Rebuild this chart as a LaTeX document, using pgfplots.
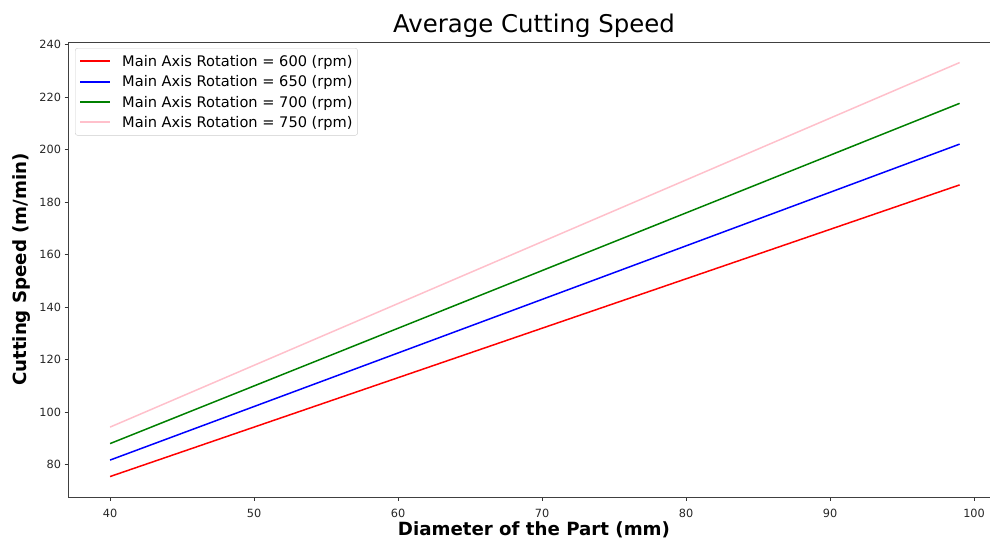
\documentclass[border=0pt]{standalone}
\usepackage{fontspec}
\setmainfont{DejaVu Sans}
\usepackage{pgfplots}
\pgfplotsset{compat=1.18}
\definecolor{mpink}{RGB}{255,192,203}
\definecolor{mgreen}{RGB}{0,128,0}
\definecolor{mblue}{RGB}{0,0,255}
\definecolor{mred}{RGB}{255,0,0}
\pgfplotsset{
  lred/.style={color=mred, line width=1.5pt},
  lblue/.style={color=mblue, line width=1.5pt},
  lgreen/.style={color=mgreen, line width=1.5pt},
  lpink/.style={color=mpink, line width=1.5pt},
}
\newcommand{\swatch}[1]{\textcolor{#1}{\rule[4.3pt]{30pt}{2pt}}\hspace{12pt}}
\begin{document}
\begin{tikzpicture}[x=1pt,y=1pt]
\useasboundingbox (0,0) rectangle (990,539);
\begin{axis}[
  at={(68pt,42pt)}, anchor=south west,
  scale only axis, width=922pt, height=455pt,
  xmin=37.08, xmax=101.11, ymin=67.6, ymax=241.1,
  axis x line=box, axis y line=left,
  axis line style={-, black!75, line width=0.9pt},
  xtick={40,50,60,70,80,90,100},
  ytick={80,100,120,140,160,180,200,220,240},
  xtick pos=bottom, ytick pos=left,
  tick align=outside, major tick length=3.5pt,
  every major tick/.append style={black!80, line width=0.8pt},
  /pgf/number format/assume math mode=true,
  ticklabel style={font=\fontsize{11.3}{13}\selectfont, text=black!85},
  xticklabel style={yshift=-5pt},
  title={Average Cutting Speed},
  title style={font=\fontsize{24.4}{29}\selectfont, at={(axis description cs:0.5054,1.0066)}, anchor=base},
  xlabel={Diameter of the Part (mm)},
  xlabel style={font=\bfseries\fontsize{18.2}{22}\selectfont, at={(axis description cs:0.5054,-0.0857)}, anchor=base},
  ylabel={Cutting Speed (m/min)},
  ylabel style={font=\bfseries\fontsize{18.2}{22}\selectfont, at={(axis description cs:-0.0445,0.5)}, anchor=base},
  legend cell align=left,
  legend image code/.code={},
  legend style={at={(axis description cs:0.0076,0.9868)}, anchor=north west,
    draw=black!20, rounded corners=2.5pt, fill=white,
    font=\fontsize{14.6}{17}\selectfont,
    inner xsep=5pt, inner ysep=3pt,
    nodes={inner xsep=0pt, inner ysep=0pt, text height=15.45pt, text depth=4.85pt}},
]
\addplot[lred] table {
x y
40 75.40
99 186.61
};
\addlegendentry{\swatch{mred}Main Axis Rotation = 600 (rpm)}
\addplot[lblue] table {
x y
40 81.68
99 202.16
};
\addlegendentry{\swatch{mblue}Main Axis Rotation = 650 (rpm)}
\addplot[lgreen] table {
x y
40 87.96
99 217.71
};
\addlegendentry{\swatch{mgreen}Main Axis Rotation = 700 (rpm)}
\addplot[lpink] table {
x y
40 94.25
99 233.26
};
\addlegendentry{\swatch{mpink}Main Axis Rotation = 750 (rpm)}
\end{axis}
\end{tikzpicture}
\end{document}
